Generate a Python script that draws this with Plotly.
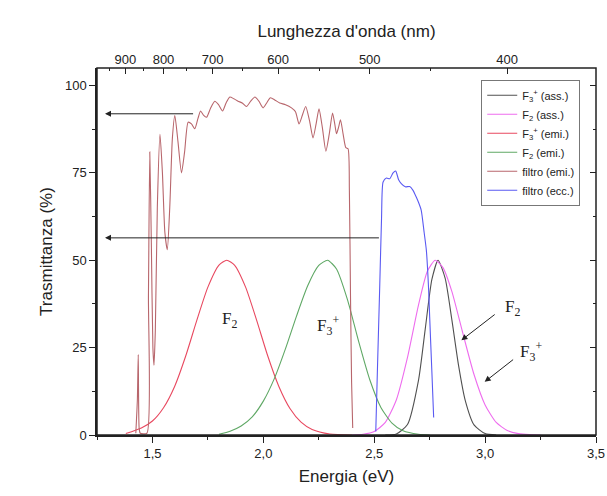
import plotly.graph_objects as go

# ---------------- data ----------------
# F3+ (ass.)  black
e_f3_ass = [2.55, 2.60, 2.65, 2.70, 2.73, 2.76, 2.788, 2.82, 2.85, 2.88, 2.91, 2.95, 3.00, 3.05]
t_f3_ass = [0.0, 0.3, 3.0, 15.8, 30.3, 44.5, 50.0, 44.8, 33.0, 20.0, 10.0, 2.9, 0.4, 0.0]

# F2 (ass.)  magenta
e_f2_ass = [2.40, 2.45, 2.50, 2.55, 2.60, 2.65, 2.70, 2.74, 2.775, 2.81, 2.85, 2.90, 2.95, 3.00, 3.05, 3.10, 3.15, 3.20, 3.25]
t_f2_ass = [0.0, 0.2, 1.0, 3.6, 10.1, 22.2, 37.3, 46.9, 50.0, 47.9, 41.1, 29.0, 17.3, 8.6, 3.6, 1.3, 0.4, 0.1, 0.0]

# F3+ (emi.)  red
e_f3_emi = [1.38, 1.45, 1.50, 1.55, 1.60, 1.65, 1.70, 1.75, 1.80, 1.835, 1.87, 1.92, 1.97, 2.02, 2.07, 2.12, 2.17, 2.22, 2.30, 2.40]
t_f3_emi = [0.4, 2.0, 4.0, 7.8, 13.9, 22.6, 32.8, 42.3, 48.6, 50.0, 48.6, 42.3, 32.8, 22.6, 13.9, 7.6, 3.7, 1.6, 0.3, 0.0]

# F2 (emi.)  green
e_f2_emi = [1.80, 1.85, 1.90, 1.95, 2.00, 2.05, 2.10, 2.15, 2.20, 2.25, 2.29, 2.33, 2.38, 2.43, 2.48, 2.53, 2.58, 2.63, 2.70, 2.75]
t_f2_emi = [0.2, 1.1, 2.6, 5.2, 9.7, 16.2, 24.7, 34.1, 42.7, 48.5, 50.0, 47.5, 38.6, 26.7, 15.8, 7.9, 3.4, 1.2, 0.2, 0.0]

# filtro (emi.)  brown
e_filt_emi = [1.425, 1.432, 1.436, 1.440, 1.445, 1.475, 1.482, 1.488, 1.495, 1.502, 1.507, 1.513, 1.522, 1.534,
              1.545, 1.556, 1.567, 1.578, 1.590, 1.601, 1.615, 1.631, 1.645, 1.661, 1.676, 1.691, 1.705, 1.717,
              1.730, 1.744, 1.762, 1.781, 1.798, 1.816, 1.832, 1.849, 1.867, 1.886, 1.905, 1.924, 1.943, 1.962,
              1.980, 1.999, 2.015, 2.032, 2.053, 2.074, 2.100, 2.127, 2.145, 2.161, 2.176, 2.191, 2.208, 2.224,
              2.238, 2.251, 2.266, 2.282, 2.297, 2.312, 2.322, 2.330, 2.339, 2.348, 2.360, 2.372, 2.382, 2.388,
              2.393, 2.398, 2.403]
t_filt_emi = [0.5, 10.0, 23.0, 2.0, 0.5, 0.5, 40.0, 81.0, 55.0, 25.0, 20.0, 30.0, 65.0, 86.0,
              75.0, 58.0, 53.0, 65.0, 85.0, 91.4, 84.0, 75.0, 81.0, 89.5, 89.0, 87.6, 90.5, 92.7,
              91.5, 90.9, 93.5, 95.5, 94.5, 92.7, 95.0, 96.7, 96.2, 95.5, 95.0, 94.0, 95.5, 96.7,
              95.5, 93.6, 95.0, 96.5, 95.8, 95.0, 94.5, 93.6, 92.5, 89.0, 91.5, 94.0, 90.0, 85.0,
              89.0, 93.3, 88.0, 81.2, 86.0, 92.1, 89.0, 86.2, 88.0, 90.2, 86.0, 82.2, 81.9, 70.0,
              40.0, 15.0, 2.0]

# filtro (ecc.)  blue
e_filt_ecc = [2.507, 2.515, 2.525, 2.533, 2.540, 2.555, 2.570, 2.585, 2.597, 2.610, 2.622, 2.640, 2.660,
              2.675, 2.690, 2.700, 2.712, 2.725, 2.735, 2.745, 2.750, 2.760, 2.768]
t_filt_ecc = [1.0, 20.0, 43.0, 62.0, 72.4, 73.5, 73.3, 75.0, 75.5, 73.0, 71.9, 71.0, 71.1,
              70.0, 68.0, 66.5, 64.3, 58.0, 52.9, 42.0, 33.8, 18.0, 5.0]

# axes
x_ticks = [1.5, 2.0, 2.5, 3.0, 3.5]
x_ticktext = ["1,5", "2,0", "2,5", "3,0", "3,5"]
y_ticks = [0, 25, 50, 75, 100]
nm_major = [900, 800, 700, 600, 500, 400]
nm_minor = [950, 850, 750, 650, 550, 450]
HC = 1239.84  # eV*nm

series = [
    ("F<sub>3</sub><sup>+</sup> (ass.)", e_f3_ass, t_f3_ass, "#505050"),
    ("F<sub>2</sub> (ass.)", e_f2_ass, t_f2_ass, "#ee6cee"),
    ("F<sub>3</sub><sup>+</sup> (emi.)", e_f3_emi, t_f3_emi, "#e8485f"),
    ("F<sub>2</sub> (emi.)", e_f2_emi, t_f2_emi, "#5fa865"),
    ("filtro (emi.)", e_filt_emi, t_filt_emi, "#b8666c"),
    ("filtro (ecc.)", e_filt_ecc, t_filt_ecc, "#5a5af2"),
]

fig = go.Figure()
for name, xs, ys, col in series:
    fig.add_trace(go.Scatter(x=xs, y=ys, name=name, mode="lines",
                             line=dict(color=col, width=1.1, shape="spline", smoothing=0.6)))

# invisible helpers so the top / right axes are drawn
fig.add_trace(go.Scatter(x=[1.25], y=[0], xaxis="x2", yaxis="y2", mode="markers",
                         marker=dict(opacity=0), showlegend=False, hoverinfo="skip"))

XR = [1.25, 3.5]
YR = [0, 105]
tickfont = dict(family="Liberation Sans, Arial", size=13, color="#222")
titlefont = dict(family="Liberation Sans, Arial", size=17, color="#222")

fig.update_layout(
    width=607, height=496,
    margin=dict(l=97, r=11, t=68, b=61, autoexpand=False),
    paper_bgcolor="white", plot_bgcolor="white",
    showlegend=True,
    legend=dict(x=0.77, y=0.968, xanchor="left", yanchor="top",
                bordercolor="#777", borderwidth=1, bgcolor="white",
                font=dict(family="Liberation Sans, Arial", size=11, color="#222"),
                itemwidth=30, tracegroupgap=0),
    xaxis=dict(range=XR, tickvals=x_ticks, ticktext=x_ticktext, ticks="outside", ticklen=6,
               tickcolor="#222", showline=True, linecolor="#222", linewidth=1.5,
               showgrid=False, zeroline=False, tickfont=tickfont, automargin=False,
               ticklabeloverflow="allow",
               minor=dict(dtick=0.25, tick0=1.25, ticks="outside", ticklen=3, tickcolor="#222"),
               title=dict(text="Energia (eV)", font=titlefont, standoff=10)),
    xaxis2=dict(range=XR, overlaying="x", side="top", anchor="y",
                tickvals=[HC / v for v in nm_major], ticktext=[str(v) for v in nm_major],
                ticks="inside", ticklen=6, tickcolor="#222", showline=False, automargin=False,
                showgrid=False, zeroline=False, tickfont=tickfont,
                minor=dict(tickvals=[HC / v for v in nm_minor], ticks="inside", ticklen=3, tickcolor="#222"),
                title=dict(text="Lunghezza d'onda (nm)", font=titlefont, standoff=10)),
    yaxis=dict(range=YR, tickvals=y_ticks, ticks="outside", ticklen=6, tickcolor="#222",
               showline=True, linecolor="#222", linewidth=1.5, showgrid=False,
               zeroline=False, tickfont=tickfont, automargin=False,
               minor=dict(dtick=12.5, tick0=0, ticks="outside", ticklen=3, tickcolor="#222"),
               title=dict(text="Trasmittanza (%)", font=titlefont, standoff=8)),
    yaxis2=dict(range=YR, overlaying="y", side="right", anchor="x", tickvals=y_ticks,
                showticklabels=False, ticks="inside", ticklen=6, tickcolor="#222", automargin=False,
                showline=False, showgrid=False, zeroline=False,
                minor=dict(dtick=12.5, tick0=0, ticks="inside", ticklen=3, tickcolor="#222")),
)

# plot frame
fig.add_shape(type="rect", xref="paper", yref="paper", x0=0, x1=1, y0=0, y1=1,
              line=dict(color="#222", width=1.5), fillcolor="rgba(0,0,0,0)", layer="above")

# arrows
arrows = [
    (1.286, 91.9, 1.69, 91.9),
    (1.286, 56.4, 2.528, 56.4),
    (2.893, 27.1, 3.05, 34.8),
    (2.998, 15.2, 3.133, 21.9),
]
for x, y, ax, ay in arrows:
    fig.add_annotation(x=x, y=y, ax=ax, ay=ay, xref="x", yref="y", axref="x", ayref="y",
                       text="", showarrow=True, arrowhead=2, arrowsize=1.2, arrowwidth=1,
                       arrowcolor="#222")

labels = [
    (1.849, 32.9, "F<sub>2</sub>"),
    (2.292, 31.4, "F<sub>3</sub><sup>+</sup>"),
    (3.124, 36.3, "F<sub>2</sub>"),
    (3.208, 23.8, "F<sub>3</sub><sup>+</sup>"),
]
for x, y, t in labels:
    fig.add_annotation(x=x, y=y, xref="x", yref="y", text=t, showarrow=False,
                       font=dict(family="Liberation Serif, Times New Roman", size=17, color="#222"))

fig.write_html("out.html")
